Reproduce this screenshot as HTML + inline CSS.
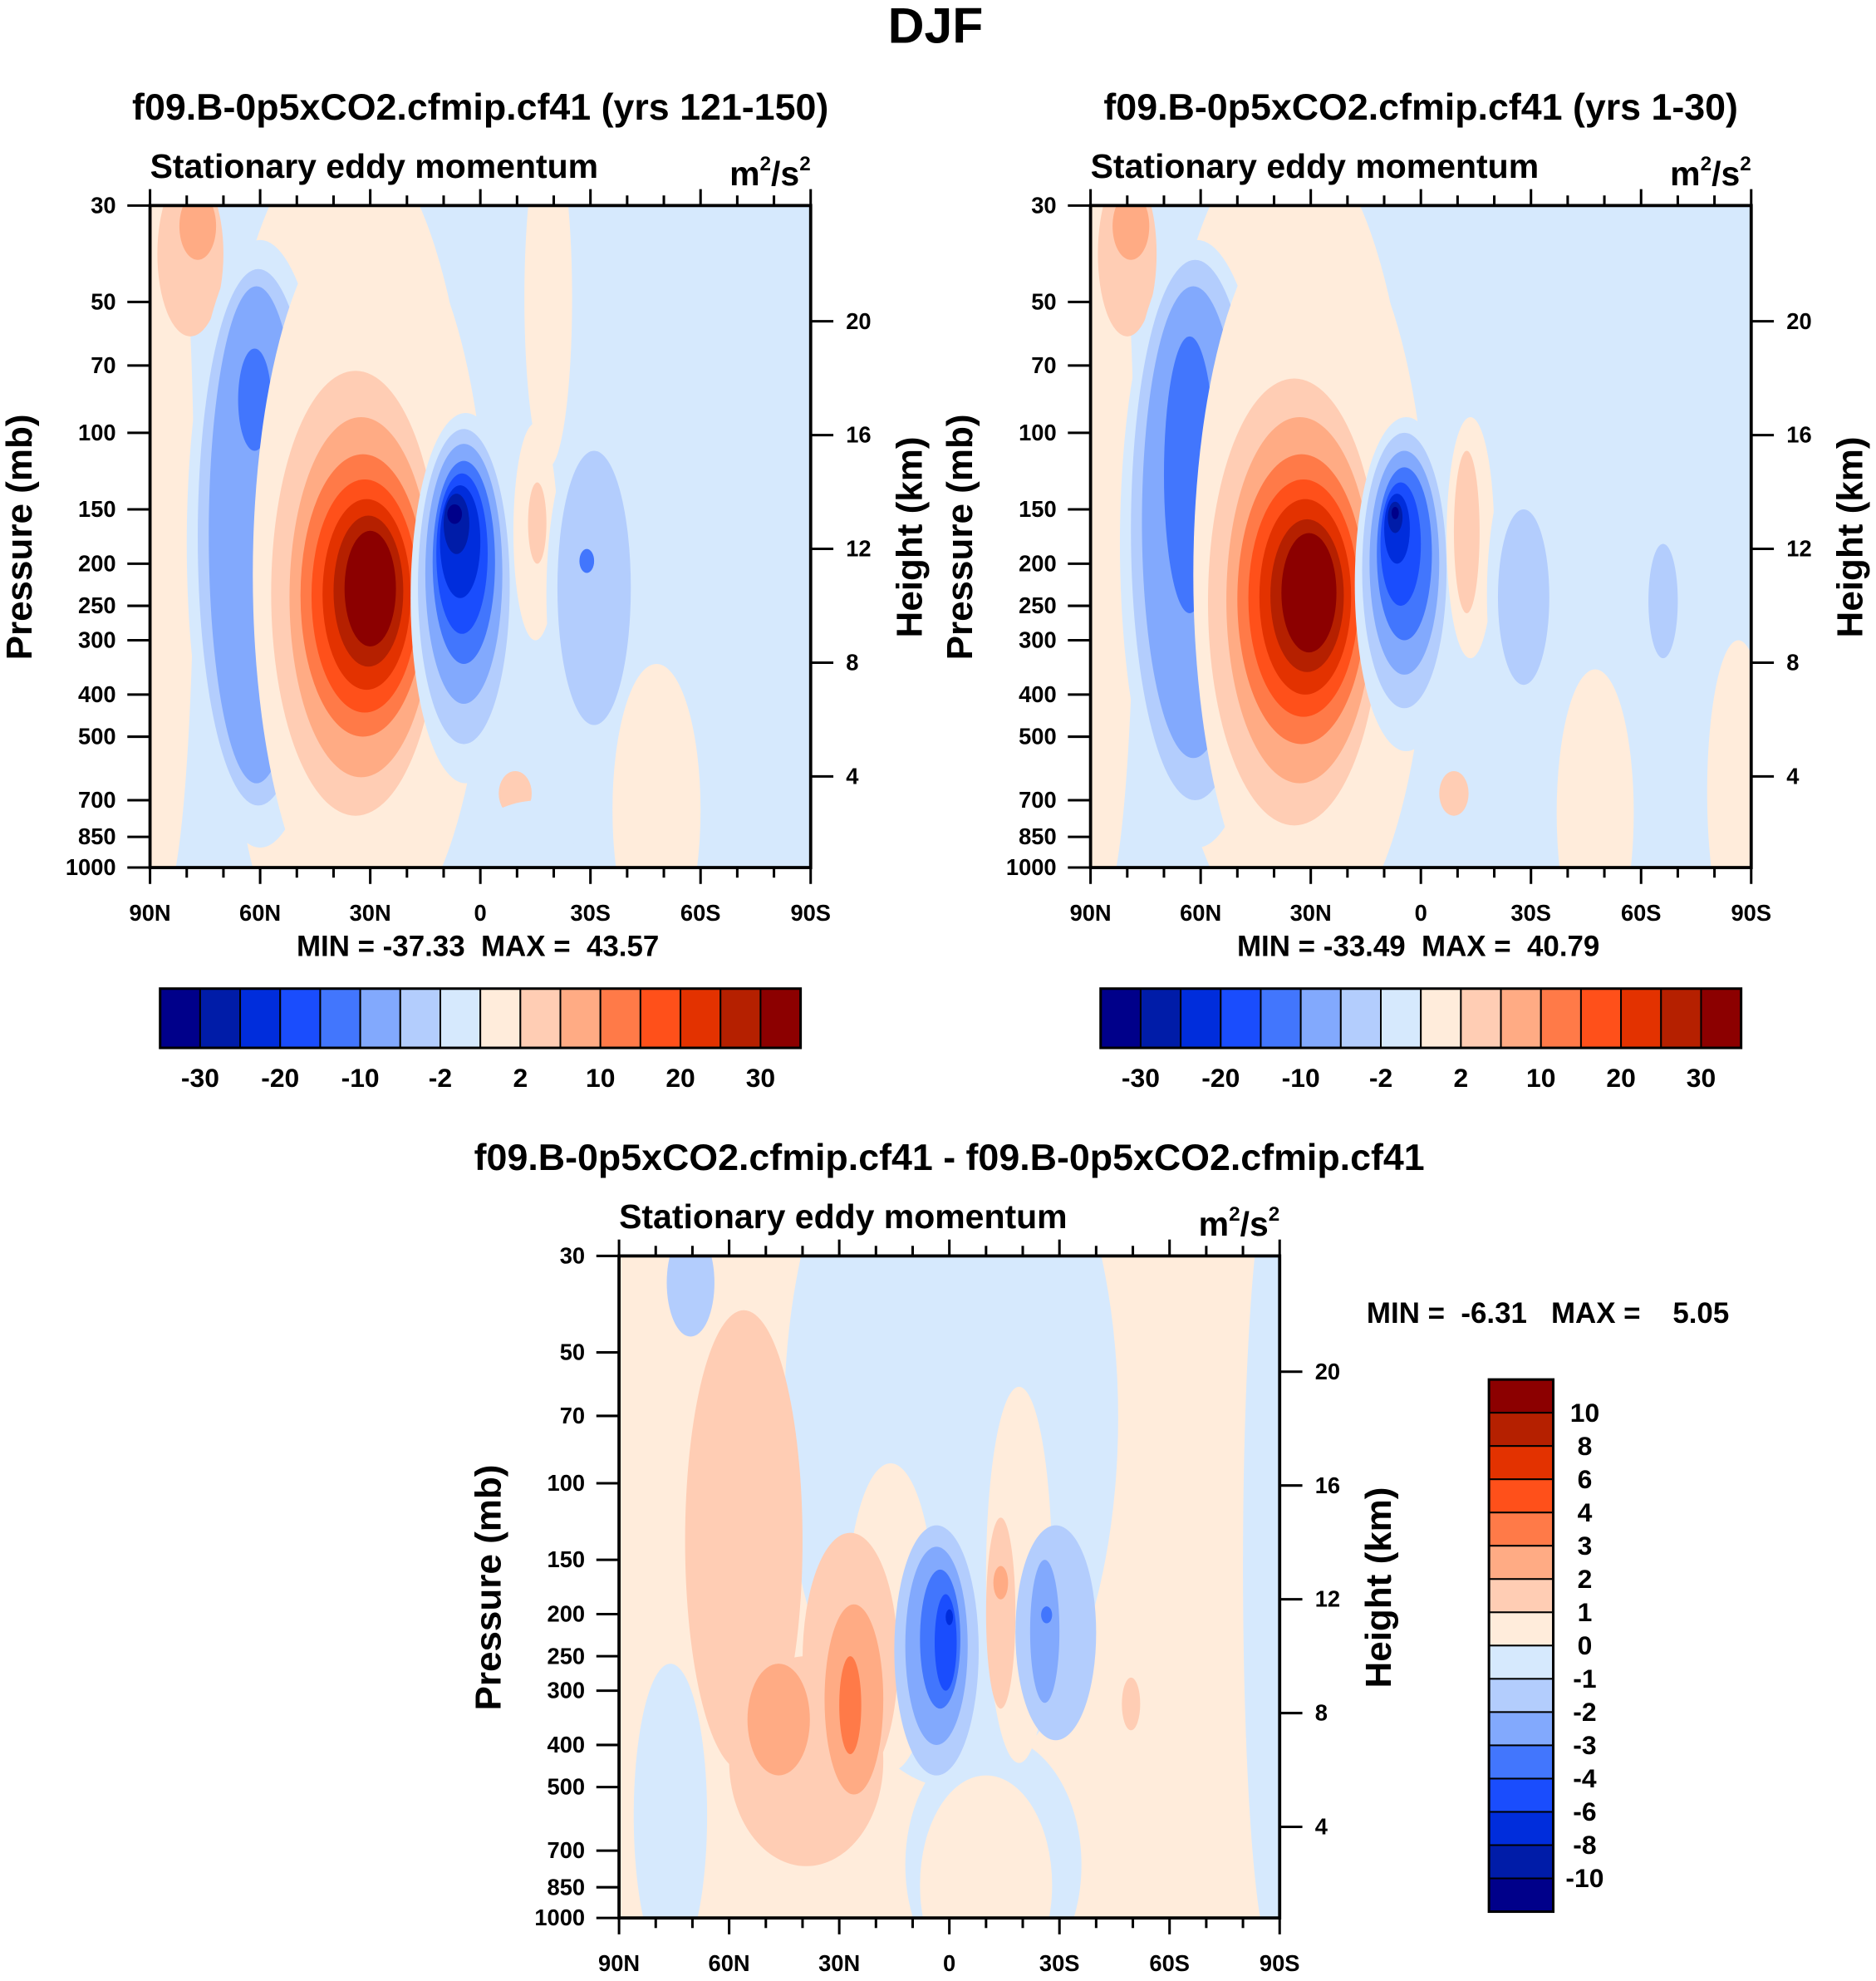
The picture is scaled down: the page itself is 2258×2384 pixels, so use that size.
<!DOCTYPE html>
<html><head><meta charset="utf-8"><style>
html,body{margin:0;padding:0;background:#fff;}
svg{display:block;font-family:"Liberation Sans",sans-serif;font-weight:bold;}
.pre{white-space:pre;}
</style></head><body>
<svg id="fig" xmlns="http://www.w3.org/2000/svg" width="2258" height="2384" viewBox="0 0 1488 1571" preserveAspectRatio="none">
<text x="742" y="34" font-size="40" text-anchor="middle">DJF</text>
</svg>
<script>
const levelColors = ["#00008a","#001ca8","#002ddc","#1a4dfd","#4276fd","#82a9fd","#b3cdfd","#d6e9fd","#ffecdb","#ffcdb4","#ffab84","#ff7a48","#ff501a","#e33200","#b52000","#8c0000"];
const topLabelsA = ["-30","-20","-10","-2","2","10","20","30"];
const topLabelIdx = [1,3,5,7,9,11,13,15];
const diffLabels = ["10","8","6","4","3","2","1","0","-1","-2","-3","-4","-6","-8","-10"];
const pressureTicks = [1000,850,700,500,400,300,250,200,150,100,70,50,30];
const heightTicks = [4,8,12,16,20];
const latTicks = [90,60,30,0,-30,-60,-90];
const latLabels = ["90N","60N","30N","0","30S","60S","90S"];
// blobs: [latA, latB, pTop, pBottom, level]
const leftBlobs = [
 [95,78,20,1200,8],[88,70,25,60,9],[82,72,28,40,10],
 [72,2,20,1500,8],[68,45,60,1200,8],
 [60,2,60,1500,8],
 [80,40,36,900,7],[77,44,42,720,6],[74,48,46,640,5],[66,57,64,110,4],
 [62,-2,30,1500,8],[57,11,72,760,9],[52,13,92,620,10],[49,15,112,500,11],[46,17,128,440,12],[43,19,142,390,13],[40,21,155,345,14],[37,23,168,310,15],
 [19,-11,90,640,7],[17,-8,98,520,6],[15,-6,106,420,5],[13,-4,116,340,4],[12,-2,124,290,3],[11,0,132,240,2],[10,3,138,190,1],[9,5,146,162,0],
 [-9,-21,95,300,8],[-13,-18,130,200,9],
 [-18,-46,92,600,7],[-21,-41,110,470,6],[-27,-31,185,210,4],
 [-36,-60,340,1600,8],[-5,-14,600,760,9],[-2,-32,700,900,7],[-12,-25,20,120,8]
];
const rightBlobs = [
 [95,78,20,1200,8],[88,72,25,60,9],[84,74,28,40,10],
 [72,2,20,1500,8],
 [60,2,60,1500,8],
 [82,40,36,900,7],[79,44,40,700,6],[76,48,46,560,5],[70,56,60,260,4],
 [62,-2,30,1500,8],[58,11,75,800,9],[53,13,92,640,10],[50,15,112,520,11],[47,17,128,450,12],[44,19,142,400,13],[41,21,158,355,14],[38,23,170,320,15],
 [18,-10,92,540,7],[16,-7,100,430,6],[14,-5,110,360,5],[12,-3,120,300,4],[11,0,130,250,3],[10,3,138,200,2],[9,5,144,170,1],[8,6,148,158,0],
 [-7,-20,92,330,8],[-9,-16,110,260,9],
 [-18,-44,100,560,7],[-21,-35,150,380,6],
 [-37,-58,350,1600,8],[-5,-13,600,760,9],[-8,-34,720,920,7],[-62,-70,180,330,6],[-78,-95,300,1500,8]
];
const diffBlobs = [
 [45,-46,10,500,7],[12,-36,380,1500,7],[86,66,260,1300,7],[-80,-96,20,1200,7],
 [28,4,90,460,8],[-10,-28,60,440,8],[8,-28,470,1500,8],
 [72,40,40,460,9],[60,18,250,760,9],[40,14,130,500,9],
 [55,38,260,470,10],[34,18,190,520,10],[30,24,250,420,11],
 [77,64,26,46,6],
 [15,-8,125,470,6],[12,-5,140,400,5],[8,-3,158,330,4],[4,-2,180,300,3],[1,-1,195,212,2],
 [-10,-18,120,330,9],[-12,-16,155,185,10],
 [-18,-40,125,390,6],[-22,-30,150,320,5],[-25,-28,192,210,4],
 [-47,-52,280,370,9],[-2,-8,1030,1500,6]
];
const panels = [
 {id:"left",x0:119,y0:163,title:"f09.B-0p5xCO2.cfmip.cf41 (yrs 121-150)",bg:7,blobs:leftBlobs,minmax:"MIN = -37.33  MAX =  43.57"},
 {id:"right",x0:865,y0:163,title:"f09.B-0p5xCO2.cfmip.cf41 (yrs 1-30)",bg:7,blobs:rightBlobs,minmax:"MIN = -33.49  MAX =  40.79"},
 {id:"diff",x0:491,y0:996,title:"f09.B-0p5xCO2.cfmip.cf41 - f09.B-0p5xCO2.cfmip.cf41",bg:8,blobs:diffBlobs,minmax:null}
];
const W=524,H=525;
const NS="http://www.w3.org/2000/svg";
const svg=document.getElementById('fig');
function mk(tag,attrs,parent){const e=document.createElementNS(NS,tag);for(const k in attrs)e.setAttribute(k,attrs[k]);(parent||svg).appendChild(e);return e;}
function txt(s,attrs,parent){const e=mk('text',attrs,parent);e.textContent=s;return e;}
panels.forEach(P=>{
 const xOf=lat=>P.x0+(90-lat)/180*W;
 const yOf=p=>P.y0+H*(1-Math.log(1000/p)/Math.log(1000/30));
 const yH=h=>P.y0+H+18-h*22.56;
 const g=mk('g',{});
 
 
 const cp=mk('clipPath',{id:'clip-'+P.id},g);
 mk('rect',{x:P.x0,y:P.y0,width:W,height:H},cp);
 const plot=mk('g',{'clip-path':'url(#clip-'+P.id+')'},g);
 
 
 mk('rect',{x:P.x0,y:P.y0,width:W,height:H,fill:levelColors[P.bg]},plot);
 P.blobs.forEach(b=>{
  const xa=xOf(b[0]),xb=xOf(b[1]),ya=yOf(b[2]),yb=yOf(b[3]);
  const e=mk('ellipse',{cx:(xa+xb)/2,cy:(ya+yb)/2,rx:Math.abs(xb-xa)/2,ry:Math.abs(yb-ya)/2,fill:levelColors[b[4]]},plot);
  
  
 });
 mk('rect',{x:P.x0,y:P.y0,width:W,height:H,fill:'none',stroke:'#000','stroke-width':2.5},g);
 pressureTicks.forEach(p=>{
  const y=yOf(p);
  mk('line',{x1:P.x0-18,x2:P.x0,y1:y,y2:y,stroke:'#000','stroke-width':2},g);
  const t=txt(String(p),{x:P.x0-27,y:y+6,'font-size':18,'text-anchor':'end'},g);
  
  
 });
 heightTicks.forEach(h=>{
  const y=yH(h);
  mk('line',{x1:P.x0+W,x2:P.x0+W+18,y1:y,y2:y,stroke:'#000','stroke-width':2},g);
  const t=txt(String(h),{x:P.x0+W+28,y:y+6,'font-size':18},g);
  
  
 });
 for(let lat=90;lat>=-90;lat-=10){
  const x=xOf(lat);const major=(lat%30===0);const L=major?13:8;
  mk('line',{x1:x,x2:x,y1:P.y0-L,y2:P.y0,stroke:'#000','stroke-width':2},g);
  mk('line',{x1:x,x2:x,y1:P.y0+H,y2:P.y0+H+L,stroke:'#000','stroke-width':2},g);
 }
 latTicks.forEach((lat,i)=>{
  const t=txt(latLabels[i],{x:xOf(lat),y:P.y0+H+42,'font-size':18,'text-anchor':'middle'},g);
  
  
 });
 const ti=txt(P.title,{x:P.x0+W/2,y:P.y0-68,'font-size':29.5,'text-anchor':'middle'},g);
 
 
 const st=txt('Stationary eddy momentum',{x:P.x0,y:P.y0-22,'font-size':27},g);
 
 
 const un=mk('text',{x:P.x0+W,y:P.y0-16,'font-size':27,'text-anchor':'end'},g);
 un.innerHTML='m<tspan font-size="16" dy="-12">2</tspan><tspan dy="12">/s</tspan><tspan font-size="16" dy="-12">2</tspan>';
 
 
 const yl=txt('Pressure (mb)',{x:0,y:0,'font-size':29,'text-anchor':'middle',transform:'translate('+(P.x0-94)+','+(P.y0+263)+') rotate(-90)'},g);
 
 
 const hl=txt('Height (km)',{x:0,y:0,'font-size':29,'text-anchor':'middle',transform:'translate('+(P.x0+W+88)+','+(P.y0+263)+') rotate(-90)'},g);
 
 
 if(P.minmax){
  const mm=txt(P.minmax,{x:P.x0+W/2-2,y:P.y0+H+70,'font-size':23,'text-anchor':'middle','class':'pre'},g);
  
  
  const cb=mk('g',{},g);
  
  
  const bx=P.x0+8,by=784,bw=508/16,bh=47;
  levelColors.forEach((c,i)=>{
   const r=mk('rect',{x:bx+i*bw,y:by,width:bw,height:bh,fill:c,stroke:'#000','stroke-width':1.3},cb);
   
   
  });
  mk('rect',{x:bx,y:by,width:508,height:bh,fill:'none',stroke:'#000','stroke-width':2},cb);
  topLabelIdx.forEach((k,i)=>{
   const t=txt(topLabelsA[i],{x:bx+k*bw,y:by+bh+31,'font-size':21,'text-anchor':'middle'},cb);
   
   
  });
 } else {
  const mm=txt('MIN =  -6.31   MAX =    5.05',{x:1084,y:1049,'font-size':23,'class':'pre'},g);
  
  
  const cb=mk('g',{},g);
  
  
  const bx=1181,by=1094,bw=51,bh=422/16;
  levelColors.slice().reverse().forEach((c,i)=>{
   const r=mk('rect',{x:bx,y:by+i*bh,width:bw,height:bh,fill:c,stroke:'#000','stroke-width':1.3},cb);
   
   
  });
  mk('rect',{x:bx,y:by,width:bw,height:422,fill:'none',stroke:'#000','stroke-width':2},cb);
  diffLabels.forEach((s,i)=>{
   const t=txt(s,{x:1257,y:by+(i+1)*bh+7,'font-size':21,'text-anchor':'middle'},cb);
   
   
  });
 }
});
</script>
</body></html>
